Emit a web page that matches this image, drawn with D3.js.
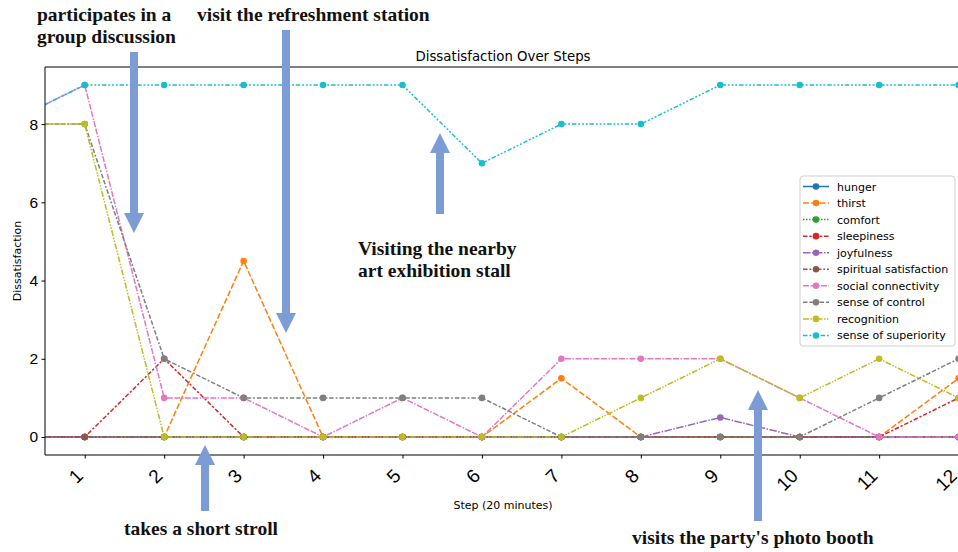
<!DOCTYPE html>
<html>
<head>
<meta charset="utf-8">
<script src="https://cdn.jsdelivr.net/npm/d3@7"></script>
<style>
  html, body { margin: 0; padding: 0; background: #fff; }
  svg { display: block; }
</style>
</head>
<body>
<script>
// ---- data ----
const steps = [0, 1, 2, 3, 4, 5, 6, 7, 8, 9, 10, 11, 12];
const xTicks = [1, 2, 3, 4, 5, 6, 7, 8, 9, 10, 11, 12];
const yTicks = [0, 2, 4, 6, 8];
const seriesNames = ["hunger", "thirst", "comfort", "sleepiness", "joyfulness",
  "spiritual satisfaction", "social connectivity", "sense of control",
  "recognition", "sense of superiority"];
const hunger        = [0, 0, 0, 0, 0, 0, 0, 0, 0, 0, 0, 0, 0];
const thirst        = [0, 0, 0, 4.5, 0, 0, 0, 1.5, 0, 0, 0, 0, 1.5];
const comfort       = [0, 0, 0, 0, 0, 0, 0, 0, 0, 0, 0, 0, 0];
const sleepiness    = [0, 0, 2, 0, 0, 0, 0, 0, 0, 0, 0, 0, 1];
const joyfulness    = [0, 0, 0, 0, 0, 0, 0, 0, 0, 0.5, 0, 0, 0];
const spiritual     = [0, 0, 0, 0, 0, 0, 0, 0, 0, 0, 0, 0, 0];
const social        = [8, 9, 1, 1, 0, 1, 0, 2, 2, 2, 1, 0, 0];
const control       = [8, 8, 2, 1, 1, 1, 1, 0, 0, 0, 0, 1, 2];
const recognition   = [8, 8, 0, 0, 0, 0, 0, 0, 1, 2, 1, 2, 1];
const superiority   = [8, 9, 9, 9, 9, 9, 7, 8, 8, 9, 9, 9, 9];
const seriesValues = [hunger, thirst, comfort, sleepiness, joyfulness,
  spiritual, social, control, recognition, superiority];
const colors = ["#1f77b4", "#ff7f0e", "#2ca02c", "#d62728", "#9467bd",
  "#8c564b", "#e377c2", "#7f7f7f", "#bcbd22", "#17becf"];
// seaborn-style dash specs (in units of line width)
const dashSpecs = [
  [], [4, 1.5], [1, 1], [3, 1.25, 1.5, 1.25], [5, 1, 1, 1],
  [3, 1.25, 1.25, 1.25, 1.25, 1.25], [4, 1, 4, 1, 1, 1],
  [3, 1.25, 3, 1.25, 1.25, 1.25], [4, 1, 1, 1, 1, 1],
  [3, 1.25, 1.25, 1.25, 1.25, 1.25, 1.25, 1.25]
];
const annotations = [
  { lines: ["participates in a", "group discussion"], tx: 37, ty: 21, ax: 134, y0: 52, y1: 233 },
  { lines: ["visit the refreshment station"], tx: 197, ty: 21, ax: 286, y0: 30, y1: 333 },
  { lines: ["Visiting the nearby", "art exhibition stall"], tx: 358, ty: 255, ax: 440, y0: 214, y1: 133 },
  { lines: ["takes a short stroll"], tx: 124, ty: 535, ax: 205, y0: 511, y1: 445 },
  { lines: ["visits the party's photo booth"], tx: 632, ty: 544, ax: 758, y0: 521, y1: 390 }
];

// ---- layout ----
const W = 958, H = 552;
const L = 45, T = 67, R = 961, B = 455;
const lw = 1.5;

const svg = d3.select("body").append("svg").attr("width", W).attr("height", H)
  .style("font-family", "'DejaVu Sans', sans-serif");

const x = d3.scaleLinear().domain([0.5, 12.03]).range([L, R]);
const y = d3.scaleLinear().domain([-0.46, 9.46]).range([B, T]);

svg.append("defs").append("clipPath").attr("id", "clip")
  .append("rect").attr("x", L).attr("y", T).attr("width", R - L).attr("height", B - T);

const plot = svg.append("g").attr("clip-path", "url(#clip)");
const line = d3.line().x((d, i) => x(steps[i])).y(d => y(d));

seriesValues.forEach((vals, k) => {
  const g = plot.append("g");
  g.append("path").datum(vals).attr("d", line)
    .attr("fill", "none").attr("stroke", colors[k]).attr("stroke-width", lw)
    .attr("stroke-dasharray", dashSpecs[k].length ? dashSpecs[k].map(v => v * lw).join(",") : null);
  g.selectAll("circle").data(vals).join("circle")
    .attr("cx", (d, i) => x(steps[i])).attr("cy", d => y(d)).attr("r", 3.3)
    .attr("fill", colors[k]);
});

// axes
const xAxis = d3.axisBottom(x).tickValues(xTicks).tickSize(3.5).tickFormat(d3.format("d"));
const gx = svg.append("g").attr("transform", `translate(0,${B})`).call(xAxis);
gx.select(".domain").remove();
gx.selectAll("text").attr("font-size", 19).attr("fill", "#000")
  .attr("text-anchor", "end").attr("y", null).attr("dy", null)
  .attr("transform", `translate(-1,22) rotate(-45)`)
  .attr("x", 0);
gx.selectAll("line").attr("stroke", "#000");

const yAxis = d3.axisLeft(y).tickValues(yTicks).tickSize(3.5);
const gy = svg.append("g").attr("transform", `translate(${L},0)`).call(yAxis);
gy.select(".domain").remove();
gy.selectAll("text").attr("font-size", 15.5).attr("fill", "#000").attr("x", -7);
gy.selectAll("line").attr("stroke", "#000");

// spines
svg.append("line").attr("x1", L).attr("x2", L).attr("y1", T).attr("y2", B).attr("stroke", "#000").attr("stroke-width", 1);
svg.append("line").attr("x1", L).attr("x2", W).attr("y1", B).attr("y2", B).attr("stroke", "#000").attr("stroke-width", 1);
svg.append("line").attr("x1", L).attr("x2", W).attr("y1", T).attr("y2", T).attr("stroke", "#000").attr("stroke-width", 1);

// title & labels
svg.append("text").attr("x", (L + R) / 2).attr("y", 61).attr("text-anchor", "middle")
  .attr("font-size", 13.3).text("Dissatisfaction Over Steps");
svg.append("text").attr("x", (L + R) / 2).attr("y", 509).attr("text-anchor", "middle")
  .attr("font-size", 11).text("Step (20 minutes)");
svg.append("text").attr("transform", `translate(21,${(T + B) / 2}) rotate(-90)`)
  .attr("text-anchor", "middle").attr("font-size", 11).text("Dissatisfaction");

// legend
const lg = svg.append("g");
lg.append("rect").attr("x", 800).attr("y", 176).attr("width", 155).attr("height", 170)
  .attr("rx", 3).attr("fill", "#fff").attr("fill-opacity", 0.85)
  .attr("stroke", "#d0d0d0").attr("stroke-width", 1);
seriesNames.forEach((name, k) => {
  const cy = 186.5 + k * 16.55;
  lg.append("line").attr("x1", 803).attr("x2", 829).attr("y1", cy).attr("y2", cy)
    .attr("stroke", colors[k]).attr("stroke-width", lw)
    .attr("stroke-dasharray", dashSpecs[k].length ? dashSpecs[k].map(v => v * lw).join(",") : null);
  lg.append("circle").attr("cx", 816).attr("cy", cy).attr("r", 3.3).attr("fill", colors[k]);
  lg.append("text").attr("x", 837).attr("y", cy + 4).attr("font-size", 11).text(name);
});

// annotations
const arrowColor = "#7c9cd6";
annotations.forEach(a => {
  const dir = a.y1 > a.y0 ? 1 : -1;
  const headLen = 20, headW = 10, shaftW = 4;
  const hb = a.y1 - dir * headLen;
  const pts = [
    [a.ax - shaftW, a.y0], [a.ax + shaftW, a.y0], [a.ax + shaftW, hb],
    [a.ax + headW, hb], [a.ax, a.y1], [a.ax - headW, hb], [a.ax - shaftW, hb]
  ];
  svg.append("polygon").attr("points", pts.map(p => p.join(",")).join(" "))
    .attr("fill", arrowColor);
  const t = svg.append("text").attr("x", a.tx).attr("y", a.ty)
    .attr("font-family", "'Liberation Serif', 'Times New Roman', serif")
    .attr("font-weight", "bold").attr("font-size", 19.5).attr("fill", "#111");
  a.lines.forEach((ln, i) => {
    t.append("tspan").attr("x", a.tx).attr("dy", i === 0 ? 0 : 22).text(ln);
  });
});
</script>
</body>
</html>
